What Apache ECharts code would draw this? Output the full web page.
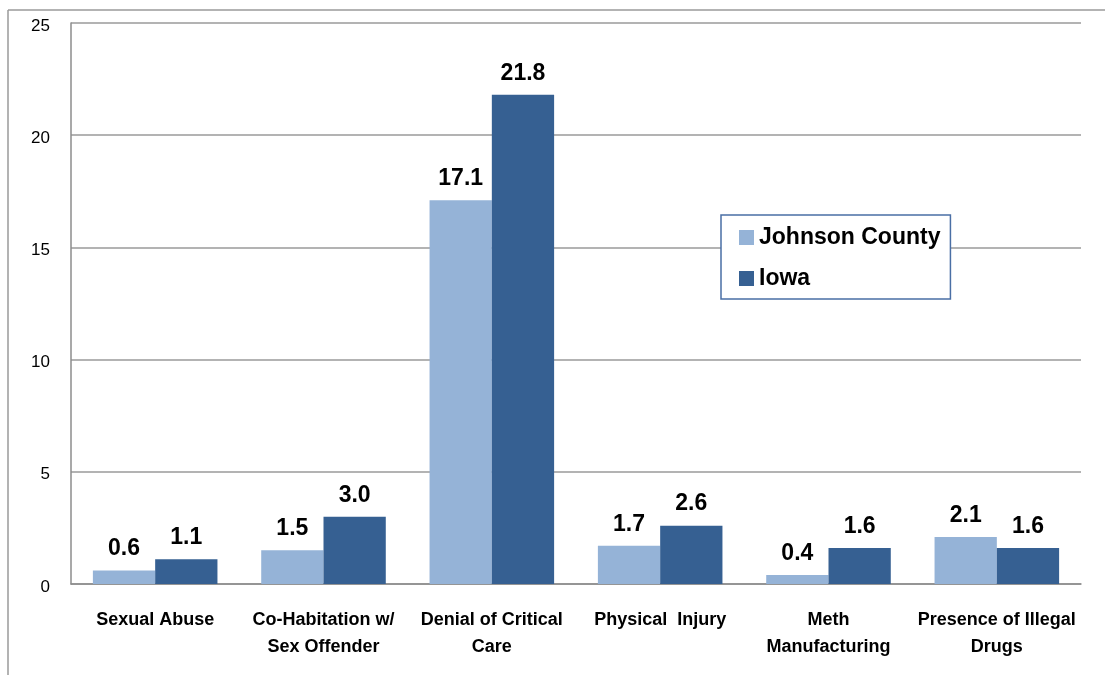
<!DOCTYPE html>
<html>
<head>
<meta charset="utf-8">
<script src="https://cdn.jsdelivr.net/npm/echarts@6/dist/echarts.min.js"></script>
<style>
  html, body { margin: 0; padding: 0; background: #fff; }
  #chart { width: 1105px; height: 675px; }
</style>
</head>
<body>
<div id="chart"></div>
<script>
// Abuse categories and rates for the county and the state
const categories = [
  'Sexual Abuse',
  'Co-Habitation w/\nSex Offender',
  'Denial of Critical\nCare',
  'Physical  Injury',
  'Meth\nManufacturing',
  'Presence of Illegal\nDrugs'
];
const johnsonCounty = [0.6, 1.5, 17.1, 1.7, 0.4, 2.1];
const iowa = [1.1, 3.0, 21.8, 2.6, 1.6, 1.6];
const yTicks = { min: 0, max: 25, interval: 5 };

const FONT = '"Liberation Sans", Arial, sans-serif';

const chart = echarts.init(document.getElementById('chart'));

const labelStyle = {
  show: true,
  position: 'top',
  distance: 10,
  fontFamily: FONT,
  fontWeight: 'bold',
  fontSize: 23,
  color: '#000',
  formatter: p => p.value.toFixed(1)
};

chart.setOption({
  animation: false,
  backgroundColor: '#fff',
  textStyle: { fontFamily: FONT },
  grid: { left: 71, right: 24, top: 23, bottom: 91, containLabel: false },
  graphic: [
    // outer chart frame (top and left edges)
    { type: 'line', shape: { x1: 8, y1: 10, x2: 1105, y2: 10 }, style: { stroke: '#9a9a9a', lineWidth: 1.5 } },
    { type: 'line', shape: { x1: 8, y1: 10, x2: 8, y2: 675 }, style: { stroke: '#9a9a9a', lineWidth: 1.5 } }
  ],
  legend: {
    orient: 'vertical',
    left: 721,
    top: 215,
    data: ['Johnson County', 'Iowa'],
    icon: 'rect',
    itemWidth: 15,
    itemHeight: 15,
    itemGap: 18,
    padding: [11, 10, 9, 18],
    borderColor: '#4A6FA5',
    borderWidth: 1.5,
    backgroundColor: '#fff',
    textStyle: { fontFamily: FONT, fontWeight: 'bold', fontSize: 23, color: '#000', lineHeight: 22 }
  },
  xAxis: {
    type: 'category',
    data: categories,
    axisLine: { lineStyle: { color: '#8c8c8c', width: 1.5 } },
    axisTick: { show: false },
    axisLabel: {
      interval: 0,
      margin: 23,
      fontFamily: FONT,
      fontWeight: 'bold',
      fontSize: 18,
      lineHeight: 27,
      color: '#000'
    }
  },
  yAxis: {
    type: 'value',
    min: yTicks.min,
    max: yTicks.max,
    interval: yTicks.interval,
    axisLine: { show: true, lineStyle: { color: '#8c8c8c', width: 1.5 } },
    axisTick: { show: false },
    splitLine: { lineStyle: { color: '#9a9a9a', width: 1.5 } },
    axisLabel: {
      margin: 21,
      fontFamily: FONT,
      fontSize: 17,
      color: '#000',
      verticalAlign: 'top',
      lineHeight: 6
    }
  },
  series: [
    {
      name: 'Johnson County',
      type: 'bar',
      data: johnsonCounty,
      barGap: '0%',
      barCategoryGap: '26%',
      itemStyle: { color: '#95B3D7' },
      label: labelStyle
    },
    {
      name: 'Iowa',
      type: 'bar',
      data: iowa,
      barGap: '0%',
      barCategoryGap: '26%',
      itemStyle: { color: '#366092' },
      label: labelStyle
    }
  ]
});
</script>
</body>
</html>
